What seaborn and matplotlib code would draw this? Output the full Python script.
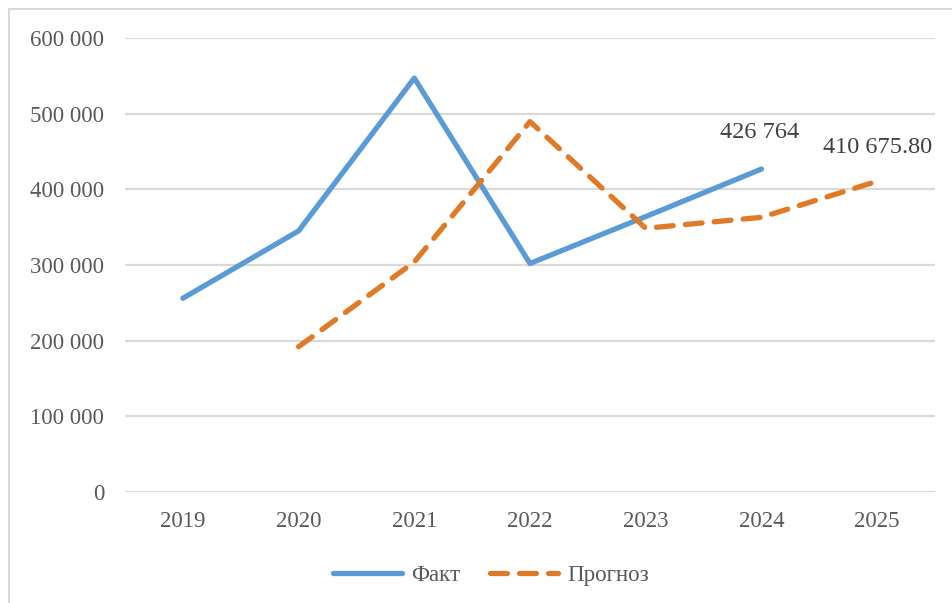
import matplotlib
matplotlib.use("Agg")
import matplotlib.pyplot as plt
import seaborn as sns
import pandas as pd
from matplotlib.lines import Line2D
from matplotlib.ticker import FuncFormatter

# Series values
years = [2019, 2020, 2021, 2022, 2023, 2024, 2025]
fact_years = [2019, 2020, 2021, 2022, 2023, 2024]
fact_values = [256000, 345000, 547000, 302000, 364000, 426764]
forecast_years = [2020, 2021, 2022, 2023, 2024, 2025]
forecast_values = [192000, 304000, 489500, 348500, 363000, 410675.80]
fact_label = "426 764"
forecast_label = "410 675.80"
y_ticks = [0, 100000, 200000, 300000, 400000, 500000, 600000]

BLUE = "#5B9BD5"
ORANGE = "#E07A26"
TEXT = "#595959"
GRID = "#D9D9D9"

sns.set_theme(style="white")
plt.rcParams["font.family"] = ["Liberation Serif", "DejaVu Serif"]

df = pd.concat([
    pd.DataFrame({"year": fact_years, "value": fact_values, "series": "Факт"}),
    pd.DataFrame({"year": forecast_years, "value": forecast_values, "series": "Прогноз"}),
], ignore_index=True)

fig = plt.figure(figsize=(9.52, 6.03), dpi=100)
ax = fig.add_axes([125 / 952, 1 - 492 / 603, (935 - 125) / 952, (492 - 38) / 603])

sns.lineplot(data=df[df.series == "Факт"], x="year", y="value", ax=ax,
             color=BLUE, linewidth=3.8, legend=False, zorder=3)
sns.lineplot(data=df[df.series == "Прогноз"], x="year", y="value", ax=ax,
             color=ORANGE, linewidth=3.8, legend=False, zorder=3)
for ln in ax.lines:
    ln.set_solid_capstyle("round")
    ln.set_dash_capstyle("round")
ax.lines[1].set_dashes([3.2, 2.3])

ax.set_xlim(2018.5, 2025.5)
ax.set_ylim(0, 600000)
ax.set_xticks(years)
ax.set_xticklabels([str(y) for y in years])
ax.set_yticks(y_ticks)
ax.yaxis.set_major_formatter(FuncFormatter(lambda v, p: f"{int(v):,}".replace(",", " ")))
ax.grid(axis="y", color=GRID, linewidth=1.6, zorder=0)
ax.grid(axis="x", visible=False)
for s in ax.spines.values():
    s.set_visible(False)
ax.tick_params(axis="both", length=0, labelsize=16.5, labelcolor=TEXT)
ax.tick_params(axis="y", pad=15)
ax.tick_params(axis="x", pad=14)
ax.set_xlabel("")
ax.set_ylabel("")

# Value labels at the last points
ax.annotate(fact_label, (fact_years[-1], fact_values[-1]), xytext=(-1, 19),
            textcoords="offset points", ha="center", va="bottom",
            fontsize=17.5, color="#404040")
ax.annotate(forecast_label, (forecast_years[-1], forecast_values[-1]), xytext=(0, 17),
            textcoords="offset points", ha="center", va="bottom",
            fontsize=17.5, color="#404040")

handles = [
    Line2D([], [], color=BLUE, linewidth=3.8, solid_capstyle="round"),
    Line2D([], [], color=ORANGE, linewidth=3.8, dashes=[3.2, 2.3], dash_capstyle="round"),
]
fig.legend(handles, ["Факт", "Прогноз"], loc="center", bbox_to_anchor=(491 / 952, 1 - 575 / 603),
           ncol=2, frameon=False, fontsize=16.5, labelcolor=TEXT, handlelength=3.0,
           handletextpad=0.4, columnspacing=1.3)

# Light frame along the top and left edges
fig.add_artist(Line2D([9 / 952, 9 / 952], [0, 1 - 8.5 / 603], transform=fig.transFigure,
                      color="#D9D9D9", linewidth=1.5))
fig.add_artist(Line2D([9 / 952, 1], [1 - 8.5 / 603, 1 - 8.5 / 603], transform=fig.transFigure,
                      color="#D9D9D9", linewidth=1.5))

fig.savefig("out.png", dpi=100, facecolor="white")
